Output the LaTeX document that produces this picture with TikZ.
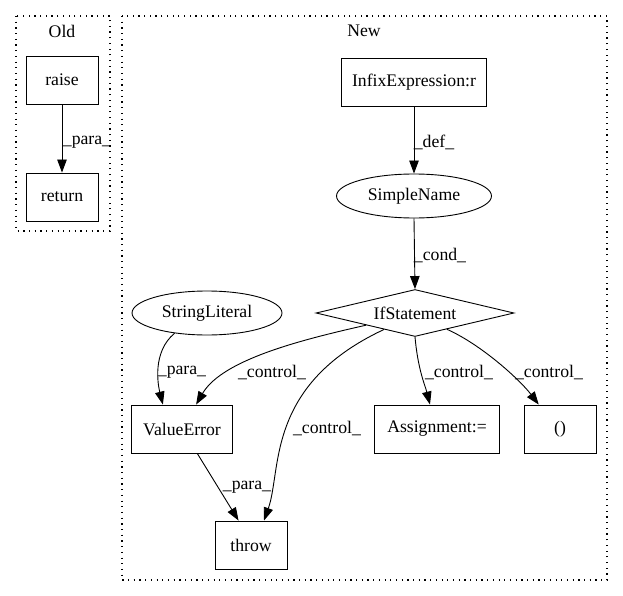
\documentclass[tikz,border=0pt]{standalone}
\usepackage{fontspec}
\setmainfont{Liberation Serif}
\usetikzlibrary{arrows.meta,shapes.geometric}
\tikzset{
  cluster/.style={line width=1.1pt, dash pattern=on 1.2pt off 4.5pt},
  box/.style={draw, rectangle, line width=0.9pt, minimum height=48pt, inner xsep=11pt},
  oval/.style={draw, ellipse, line width=0.9pt, minimum height=44pt, inner sep=0pt},
  test/.style={draw, diamond, line width=0.9pt, aspect=4.3, minimum width=198pt, minimum height=47pt, inner sep=0pt},
  flow/.style={-{Triangle[length=13pt,width=9.5pt]}, line width=0.9pt},
  lbl/.style={inner sep=0pt}
}

\begin{document}
\begin{tikzpicture}[x=1pt, y=-1pt, font=\fontsize{17.7}{20}\selectfont]
\useasboundingbox (0,0) rectangle (623,596);

% clusters
\draw[cluster] (16,16) rectangle (110,231);
\node (oldtitle) at (62,31) {Old};
\draw[cluster] (122,16) rectangle (607,580);
\node (newtitle) at (364,31) {New};

% old
\node[box, minimum width=72pt] (raise) at (62,80) {raise};
\node[box, minimum width=72pt] (return) at (62,197) {return};
\draw[flow] (raise.south) -- (return.north);
\node[lbl] (l1) at (87,142) {\_para\_};

% new
\node[box] (infix) at (414,82) {InfixExpression:r};
\node[oval, minimum width=155pt] (simplename) at (414,196) {SimpleName};
\node[test] (ifstmt) at (415,313) {IfStatement};
\node[oval, minimum width=150pt] (strlit) at (207,313) {StringLiteral};
\node[box, minimum width=101pt] (valerr) at (182,429) {ValueError};
\node[box, minimum width=125pt] (assign) at (437,429) {Assignment:=};
\node[box, minimum width=72pt] (paren) at (560,429) {()};
\node[box, minimum width=72pt] (throw) at (251,545) {throw};

\draw[flow] (infix.south) -- (simplename.north);
\node[lbl] (l2) at (434,142) {\_def\_};
\draw[flow] (simplename.south) -- (ifstmt.north);
\node[lbl] (l3) at (440,255) {\_cond\_};

\draw[flow] (strlit.212) .. controls (152,352) and (158,385) .. (valerr.128);
\node[lbl] (l4) at (182,372) {\_para\_};
\draw[flow] (ifstmt.194) .. controls (300,340) and (222,360) .. (valerr.60);
\node[lbl] (l5) at (272,372) {\_control\_};
\draw[flow] (ifstmt.208) .. controls (265,385) and (282,470) .. (throw.62);
\node[lbl] (l6) at (327,428) {\_control\_};
\draw[flow] (ifstmt.south) .. controls (418,370) and (425,385) .. (assign.106);
\node[lbl] (l7) at (459,372) {\_control\_};
\draw[flow] (ifstmt.333) .. controls (482,345) and (520,380) .. (paren.131);
\node[lbl] (l8) at (549,372) {\_control\_};
\draw[flow] (valerr.302) -- (throw.117);
\node[lbl] (l9) at (247,487) {\_para\_};
\end{tikzpicture}
\end{document}
